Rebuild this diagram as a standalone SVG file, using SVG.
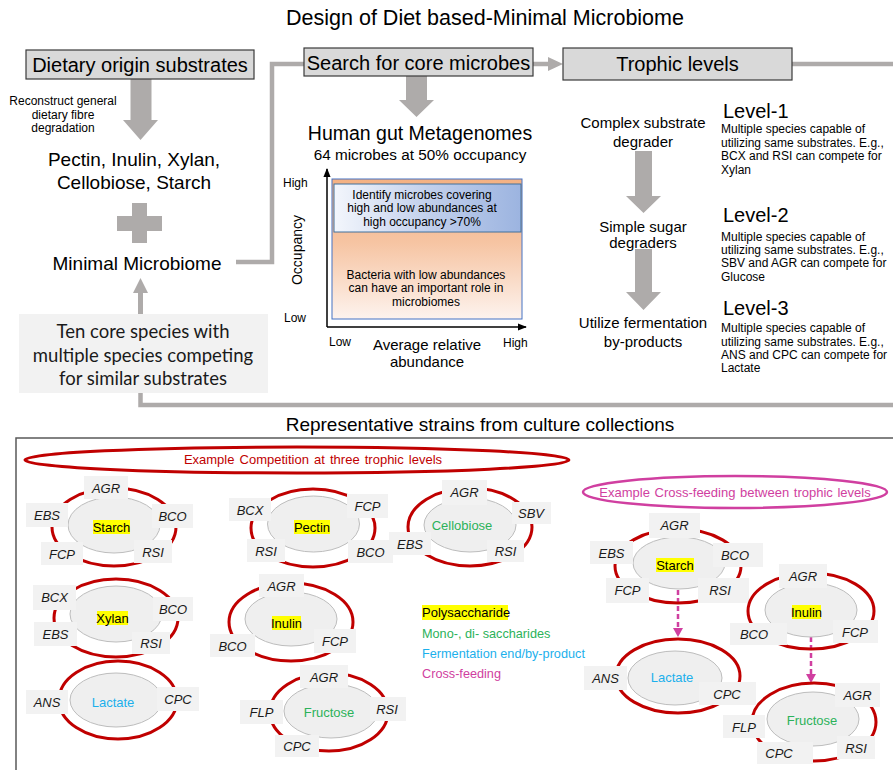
<svg xmlns="http://www.w3.org/2000/svg" width="893" height="770" viewBox="0 0 893 770">
<defs>
<linearGradient id="gOrange" x1="0" y1="0" x2="0" y2="1">
<stop offset="0" stop-color="#f4b183"/>
<stop offset="0.45" stop-color="#f6c4a2"/>
<stop offset="1" stop-color="#fdf3ee"/>
</linearGradient>
<linearGradient id="gBlue" x1="0" y1="0" x2="1" y2="0">
<stop offset="0" stop-color="#f3f6fc"/>
<stop offset="0.5" stop-color="#c2d0ec"/>
<stop offset="1" stop-color="#9cb4e0"/>
</linearGradient>
<marker id="axArrow" viewBox="0 0 10 10" refX="9" refY="5" markerWidth="6" markerHeight="6" orient="auto">
<path d="M0,1 L10,5 L0,9 z" fill="#000"/>
</marker>
</defs>
<style>
text{font-family:"Liberation Sans",Arial,sans-serif;fill:#000}
.hbox{fill:#d9d9d9;stroke:#3a3a3a;stroke-width:1.2}
.htxt{font-size:20px;text-anchor:middle}
.garrow{fill:#aeabaa}
.gline{fill:none;stroke:#aeabaa;stroke-width:4.5}
.t15{font-size:15px;text-anchor:middle}
.t12{font-size:12px}
.c12{font-size:12px;text-anchor:middle}
.lvl{font-size:20px}
.outer{fill:none;stroke:#c00000;stroke-width:3}
.inner{fill:#efefef;stroke:#bdbdbd;stroke-width:1}
.lbox{fill:#f2f2f2}
.ltxt{font-size:13px;font-style:italic;text-anchor:middle;fill:#1a1a1a}
.ctr{font-size:13px;text-anchor:middle}
.hl{fill:#ffff00}
.green{fill:#2cb25a}
.blue{fill:#1cb0ec}
.mag{fill:#d03fa0}
.cross{stroke:#d03fa0;stroke-width:2.5;stroke-dasharray:5,3;fill:none}
.core{font-family:Lato,"Open Sans",sans-serif;font-size:18.5px;text-anchor:middle;fill:#1a1a1a}
</style>

<text x="485" y="25" font-size="21.5" text-anchor="middle">Design of Diet based-Minimal Microbiome</text>

<g id="connectors">
<path class="gline" d="M236,262 H272 V64 H304"/>
<path class="gline" d="M533,64 H550"/>
<polygon class="garrow" points="548,57 563,64 548,71"/>
<path class="gline" d="M792,64 H900 V405 H140.5 V393"/>
<polygon class="garrow" points="130.5,79 151.5,79 151.5,120 158,120 140.5,140 123,120 130.5,120"/>
<polygon class="garrow" points="406,76 427,76 427,100 434,100 416.5,117 399,100 406,100"/>
<polygon class="garrow" points="635,151 652,151 652,196 661,196 643.5,213 626,196 635,196"/>
<polygon class="garrow" points="635,249 652,249 652,292 661,292 643.5,310 626,292 635,292"/>
<rect class="garrow" x="138" y="292" width="5" height="22"/>
<polygon class="garrow" points="133,293 140.5,278 148,293"/>
<path class="cross" d="M678,590 V629"/>
<polygon class="mag" points="673,628 683,628 678,637"/>
<path class="cross" d="M811,637 V675"/>
<polygon class="mag" points="806,674 816,674 811,683"/>
</g>

<g id="dietary">
<rect class="hbox" x="26" y="50" width="228" height="29"/>
<text class="htxt" x="140" y="72">Dietary origin substrates</text>
<text class="c12" x="63" y="105">Reconstruct general</text>
<text class="c12" x="63" y="119">dietary fibre</text>
<text class="c12" x="63" y="132">degradation</text>
<text x="134" y="166" font-size="19" text-anchor="middle">Pectin, Inulin, Xylan,</text>
<text x="134" y="189" font-size="19" text-anchor="middle">Cellobiose, Starch</text>
</g>

<g id="plus">
<rect class="garrow" x="132" y="203" width="15" height="40"/>
<rect class="garrow" x="117" y="216" width="45" height="15"/>
</g>

<g id="minimal">
<text x="137" y="270" font-size="19" text-anchor="middle">Minimal Microbiome</text>
</g>

<g id="tencore">
<rect x="19" y="314" width="249" height="79" fill="#f2f2f2"/>
<text class="core" x="143" y="338">Ten core species with</text>
<text class="core" x="143" y="362">multiple species competing</text>
<text class="core" x="143" y="385">for similar substrates</text>
</g>

<g id="search">
<rect class="hbox" x="304" y="48" width="229" height="28"/>
<text class="htxt" x="418.5" y="70" font-size="19.5">Search for core microbes</text>
<text x="420" y="140" font-size="19.5" text-anchor="middle">Human gut Metagenomes</text>
<text x="420" y="160" font-size="15.3" text-anchor="middle">64 microbes at 50% occupancy</text>
</g>

<g id="chart">
<rect x="332" y="179" width="190" height="140" fill="url(#gOrange)" stroke="#4472c4" stroke-width="1"/>
<rect x="334" y="184" width="187" height="48" fill="url(#gBlue)" stroke="#41719c" stroke-width="1"/>
<text class="c12" x="422" y="199">Identify microbes covering</text>
<text class="c12" x="422" y="212">high and low  abundances at</text>
<text class="c12" x="422" y="226">high occupancy &gt;70%</text>
<text class="c12" x="426" y="279">Bacteria with low abundances</text>
<text class="c12" x="426" y="292">can have an important role in</text>
<text class="c12" x="426" y="306">microbiomes</text>
<line x1="327" y1="327" x2="327" y2="169" stroke="#000" stroke-width="1.5" marker-end="url(#axArrow)"/>
<line x1="327" y1="327" x2="526" y2="327" stroke="#000" stroke-width="1.5" marker-end="url(#axArrow)"/>
<text class="t12" x="283" y="187">High</text>
<text class="t12" x="284" y="322">Low</text>
<text x="302" y="250" font-size="14" text-anchor="middle" transform="rotate(-90 302 250)">Occupancy</text>
<text class="t12" x="329" y="346">Low</text>
<text class="t12" x="503" y="347">High</text>
<text class="t15" x="427" y="350">Average relative</text>
<text class="t15" x="427" y="367">abundance</text>
</g>

<g id="trophic">
<rect class="hbox" x="563" y="48" width="229" height="32"/>
<text class="htxt" x="677.5" y="71" font-size="19">Trophic levels</text>
<text class="t15" x="643" y="128">Complex substrate</text>
<text class="t15" x="643" y="147">degrader</text>
<text class="t15" x="643" y="232">Simple sugar</text>
<text class="t15" x="643" y="248">degraders</text>
<text class="t15" x="643" y="328">Utilize fermentation</text>
<text class="t15" x="643" y="347">by-products</text>
</g>

<g id="level1">
<text class="lvl" x="723" y="118">Level-1</text>
<text class="t12" x="721" y="133">Multiple species capable of</text>
<text class="t12" x="721" y="147">utilizing same substrates. E.g.,</text>
<text class="t12" x="721" y="160">BCX and RSI can compete for</text>
<text class="t12" x="721" y="174">Xylan</text>
</g>
<g id="level2">
<text class="lvl" x="723" y="222">Level-2</text>
<text class="t12" x="721" y="241">Multiple species capable of</text>
<text class="t12" x="721" y="254">utilizing same substrates. E.g.,</text>
<text class="t12" x="721" y="267">SBV and AGR can compete for</text>
<text class="t12" x="721" y="281">Glucose</text>
</g>
<g id="level3">
<text class="lvl" x="723" y="315">Level-3</text>
<text class="t12" x="721" y="332">Multiple species capable of</text>
<text class="t12" x="721" y="346">utilizing same substrates. E.g.,</text>
<text class="t12" x="721" y="359">ANS and CPC can compete for</text>
<text class="t12" x="721" y="372">Lactate</text>
</g>

<text x="480" y="431" font-size="19" text-anchor="middle">Representative strains from culture collections</text>
<rect x="16" y="438" width="900" height="400" fill="none" stroke="#595959" stroke-width="1.5"/>

<g id="competition-title">
<ellipse cx="297" cy="460" rx="272" ry="13" fill="none" stroke="#c00000" stroke-width="3"/>
<text x="313" y="464" font-size="13" text-anchor="middle" fill="#c00000" style="fill:#c00000" word-spacing="1.5">Example Competition at three trophic levels</text>
</g>

<g id="crossfeeding-title">
<ellipse cx="735" cy="492" rx="152" ry="16" fill="none" stroke="#d03fa0" stroke-width="2.5"/>
<text class="mag" x="735" y="497" font-size="13" text-anchor="middle" word-spacing="1">Example Cross-feeding between trophic levels</text>
</g>

<g id="starch-l">
<ellipse class="outer" cx="114" cy="527" rx="62" ry="39"/>
<ellipse class="inner" cx="114" cy="525" rx="46" ry="28"/>
<rect class="lbox" x="84" y="476" width="44" height="23"/><text class="ltxt" x="106" y="492.5">AGR</text>
<rect class="lbox" x="26" y="503" width="42" height="24"/><text class="ltxt" x="47" y="520">EBS</text>
<rect class="lbox" x="152" y="504" width="41" height="24"/><text class="ltxt" x="172.5" y="521">BCO</text>
<rect class="lbox" x="41" y="542" width="42" height="23"/><text class="ltxt" x="62" y="558.5">FCP</text>
<rect class="lbox" x="134" y="540" width="38" height="23"/><text class="ltxt" x="153" y="556.5">RSI</text>
<rect class="hl" x="93" y="520" width="37" height="14"/><text class="ctr" x="111.5" y="532">Starch</text>
</g>

<g id="pectin">
<ellipse class="outer" cx="313" cy="528" rx="62" ry="39"/>
<ellipse class="inner" cx="313.5" cy="524" rx="46" ry="28"/>
<rect class="lbox" x="229" y="498" width="42" height="23"/><text class="ltxt" x="250" y="514.5">BCX</text>
<rect class="lbox" x="347" y="494" width="41" height="24"/><text class="ltxt" x="367.5" y="511">FCP</text>
<rect class="lbox" x="247" y="539" width="38" height="23"/><text class="ltxt" x="266" y="555.5">RSI</text>
<rect class="lbox" x="348" y="540" width="45" height="23"/><text class="ltxt" x="370.5" y="556.5">BCO</text>
<rect class="hl" x="294" y="520" width="36" height="14"/><text class="ctr" x="312" y="532">Pectin</text>
</g>

<g id="cellobiose">
<ellipse class="outer" cx="470" cy="527" rx="62" ry="39"/>
<ellipse class="inner" cx="470" cy="525" rx="46" ry="27"/>
<rect class="lbox" x="442" y="480" width="45" height="25"/><text class="ltxt" x="464.5" y="497">AGR</text>
<rect class="lbox" x="512" y="502" width="39" height="22"/><text class="ltxt" x="531" y="518">SBV</text>
<rect class="lbox" x="389" y="532" width="42" height="23"/><text class="ltxt" x="410" y="548.5">EBS</text>
<rect class="lbox" x="487" y="540" width="37" height="22"/><text class="ltxt" x="505.5" y="556">RSI</text>
<text class="ctr green" x="462" y="529.5">Cellobiose</text>
</g>

<g id="xylan">
<ellipse class="outer" cx="116" cy="618" rx="62" ry="39"/>
<ellipse class="inner" cx="116" cy="614" rx="46" ry="28"/>
<rect class="lbox" x="33" y="585" width="43" height="25"/><text class="ltxt" x="54.5" y="602">BCX</text>
<rect class="lbox" x="153" y="597" width="40" height="24"/><text class="ltxt" x="173" y="614">BCO</text>
<rect class="lbox" x="34" y="622" width="43" height="24"/><text class="ltxt" x="55.5" y="639">EBS</text>
<rect class="lbox" x="132" y="632" width="38" height="22"/><text class="ltxt" x="151" y="648">RSI</text>
<rect class="hl" x="97" y="611" width="31" height="14"/><text class="ctr" x="112.5" y="623">Xylan</text>
</g>

<g id="inulin-l">
<ellipse class="outer" cx="291" cy="622" rx="62" ry="39"/>
<ellipse class="inner" cx="291" cy="619" rx="46" ry="27"/>
<rect class="lbox" x="259" y="574" width="45" height="23"/><text class="ltxt" x="281.5" y="590.5">AGR</text>
<rect class="lbox" x="210" y="634" width="45" height="23"/><text class="ltxt" x="232.5" y="650.5">BCO</text>
<rect class="lbox" x="314" y="629" width="42" height="24"/><text class="ltxt" x="335" y="646">FCP</text>
<rect class="hl" x="272" y="616" width="29" height="14"/><text class="ctr" x="286.5" y="628">Inulin</text>
</g>

<g id="lactate-l">
<ellipse class="outer" cx="118" cy="700" rx="59" ry="39"/>
<ellipse class="inner" cx="116" cy="700" rx="46" ry="27"/>
<rect class="lbox" x="26" y="690" width="42" height="24"/><text class="ltxt" x="47" y="707">ANS</text>
<rect class="lbox" x="157" y="687" width="42" height="24"/><text class="ltxt" x="178" y="704">CPC</text>
<text class="ctr blue" x="113" y="706.5">Lactate</text>
</g>

<g id="fructose-l">
<ellipse class="outer" cx="329" cy="712" rx="59" ry="39"/>
<ellipse class="inner" cx="331" cy="711" rx="47" ry="27"/>
<rect class="lbox" x="300" y="665" width="48" height="23"/><text class="ltxt" x="324" y="681.5">AGR</text>
<rect class="lbox" x="240" y="700" width="43" height="24"/><text class="ltxt" x="261.5" y="717">FLP</text>
<rect class="lbox" x="370" y="697" width="36" height="24"/><text class="ltxt" x="387" y="714">RSI</text>
<rect class="lbox" x="275" y="735" width="44" height="22"/><text class="ltxt" x="297" y="751">CPC</text>
<text class="ctr green" x="329" y="716.5">Fructose</text>
</g>

<g id="legend">
<rect class="hl" x="422" y="605" width="86" height="15"/>
<text x="422" y="617" font-size="13">Polysaccharide</text>
<text class="green" x="422" y="638" font-size="12.7">Mono-, di- saccharides</text>
<text class="blue" x="422" y="658" font-size="12.7">Fermentation end/by-product</text>
<text class="mag" x="422" y="678" font-size="12.7">Cross-feeding</text>
</g>

<g id="starch-r">
<ellipse class="outer" cx="678" cy="566" rx="63" ry="37"/>
<ellipse class="inner" cx="679" cy="563" rx="46" ry="26"/>
<rect class="lbox" x="649" y="513" width="51" height="25"/><text class="ltxt" x="674.5" y="530">AGR</text>
<rect class="lbox" x="590" y="541" width="43" height="23"/><text class="ltxt" x="611.5" y="557.5">EBS</text>
<rect class="lbox" x="713" y="543" width="50" height="24"/><text class="ltxt" x="735" y="560">BCO</text>
<rect class="lbox" x="606" y="578" width="43" height="25"/><text class="ltxt" x="627.5" y="595">FCP</text>
<rect class="lbox" x="698" y="578" width="51" height="25"/><text class="ltxt" x="720" y="595">RSI</text>
<rect class="hl" x="656" y="558" width="38" height="14"/><text class="ctr" x="675" y="570">Starch</text>
</g>

<g id="lactate-r">
<ellipse class="outer" cx="678" cy="676" rx="62" ry="37"/>
<ellipse class="inner" cx="675" cy="678" rx="47" ry="27"/>
<rect class="lbox" x="584" y="666" width="43" height="24"/><text class="ltxt" x="605.5" y="683">ANS</text>
<rect class="lbox" x="699" y="682" width="57" height="23"/><text class="ltxt" x="727" y="698.5">CPC</text>
<text class="ctr blue" x="672" y="681.5">Lactate</text>
</g>

<g id="inulin-r">
<ellipse class="outer" cx="811" cy="611" rx="63" ry="38"/>
<ellipse class="inner" cx="811" cy="610" rx="46" ry="27"/>
<rect class="lbox" x="779" y="564" width="48" height="24"/><text class="ltxt" x="803" y="581">AGR</text>
<rect class="lbox" x="730" y="623" width="57" height="22"/><text class="ltxt" x="754" y="639">BCO</text>
<rect class="lbox" x="833" y="620" width="45" height="23"/><text class="ltxt" x="855" y="636.5">FCP</text>
<rect class="hl" x="792" y="605" width="29" height="14"/><text class="ctr" x="806.5" y="617">Inulin</text>
</g>

<g id="fructose-r">
<ellipse class="outer" cx="814" cy="722" rx="62" ry="39"/>
<ellipse class="inner" cx="813" cy="719" rx="46" ry="27"/>
<rect class="lbox" x="835" y="683" width="45" height="24"/><text class="ltxt" x="857.5" y="700">AGR</text>
<rect class="lbox" x="723" y="715" width="42" height="23"/><text class="ltxt" x="744" y="731.5">FLP</text>
<rect class="lbox" x="757" y="742" width="56" height="22"/><text class="ltxt" x="779" y="758">CPC</text>
<rect class="lbox" x="837" y="736" width="38" height="23"/><text class="ltxt" x="856" y="752.5">RSI</text>
<text class="ctr green" x="812" y="724.5">Fructose</text>
</g>
</svg>
